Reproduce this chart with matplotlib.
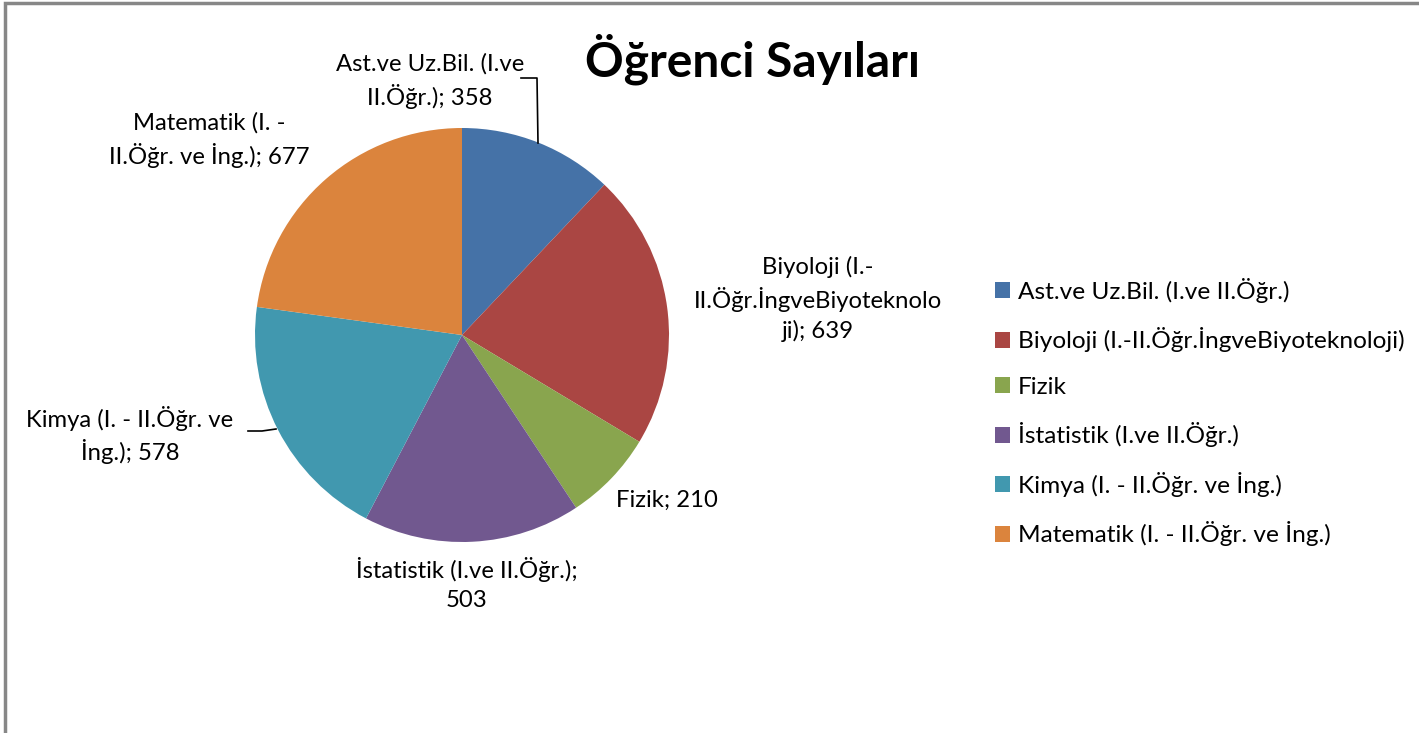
import matplotlib
matplotlib.use("Agg")
import matplotlib.pyplot as plt
from matplotlib.patches import Rectangle

plt.rcParams['font.family'] = ['Lato', 'DejaVu Sans']

categories = ["Ast.ve Uz.Bil. (I.ve II.Öğr.)",
              "Biyoloji (I.-II.Öğr.İngveBiyoteknoloji)",
              "Fizik",
              "İstatistik (I.ve II.Öğr.)",
              "Kimya (I. - II.Öğr. ve İng.)",
              "Matematik (I. - II.Öğr. ve İng.)"]
values = [358, 639, 210, 503, 578, 677]
label_texts = ["Ast.ve Uz.Bil. (I.ve\nII.Öğr.); 358",
               "Biyoloji (I.-\nII.Öğr.İngveBiyoteknolo\nji); 639",
               "Fizik; 210",
               "İstatistik (I.ve II.Öğr.);\n503",
               "Kimya (I. - II.Öğr. ve\nİng.); 578",
               "Matematik (I. -\nII.Öğr. ve İng.); 677"]
colors = ["#4572A7", "#AA4643", "#89A54E", "#71588F", "#4198AF", "#DB843D"]
title = "Öğrenci Sayıları"

W, H = 1419, 733
CX, CY, R = 462, 335, 207

fig = plt.figure(figsize=(W / 100, H / 100), dpi=100)
ax = fig.add_axes([0, 0, 1, 1])

def d(px, py):
    return ((px - CX) / R, (CY - py) / R)

wedges, _ = ax.pie(values, colors=colors, startangle=90, counterclock=False,
                   radius=1, center=(0, 0), wedgeprops=dict(linewidth=0))
ax.set_aspect('auto')
ax.set_xlim(-CX / R, (W - CX) / R)
ax.set_ylim(-(H - CY) / R, CY / R)
ax.axis('off')

# frame
x0, y0 = d(4.5, 3.5)
x1, y1 = d(W + 10, H + 10)
ax.add_patch(Rectangle((x0, y1), x1 - x0, y0 - y1, fill=False,
                       edgecolor='#878787', linewidth=2.5, clip_on=False))

fs = 17.2
label_pos = [(430, 81), (818, 299), (667, 500), (467, 584), (130, 435), (209, 140)]
for txt, (px, py) in zip(label_texts, label_pos):
    x, y = d(px, py)
    ax.text(x, y, txt, ha='center', va='center', fontsize=fs,
            multialignment='center', linespacing=1.42, color='black')

# leader lines
pts = [d(521, 78), d(537, 78), d(538, 143)]
ax.plot([p[0] for p in pts], [p[1] for p in pts], color='black', lw=1.2)
pts = [d(248, 431), d(262, 431), d(276, 429)]
ax.plot([p[0] for p in pts], [p[1] for p in pts], color='black', lw=1.2)

tx, ty = d(753, 59)
ax.text(tx, ty, title, ha='center', va='center', fontsize=34.5, fontweight='bold')

lx, ly = d(995, 278)
ax.legend(wedges, categories, loc='upper left', bbox_to_anchor=(lx, ly),
          bbox_transform=ax.transData, frameon=False, fontsize=17.6,
          handlelength=0.62, handleheight=0.62, handletextpad=0.33,
          labelspacing=1.0, borderaxespad=0, borderpad=0)

fig.savefig("out.png", dpi=100)
